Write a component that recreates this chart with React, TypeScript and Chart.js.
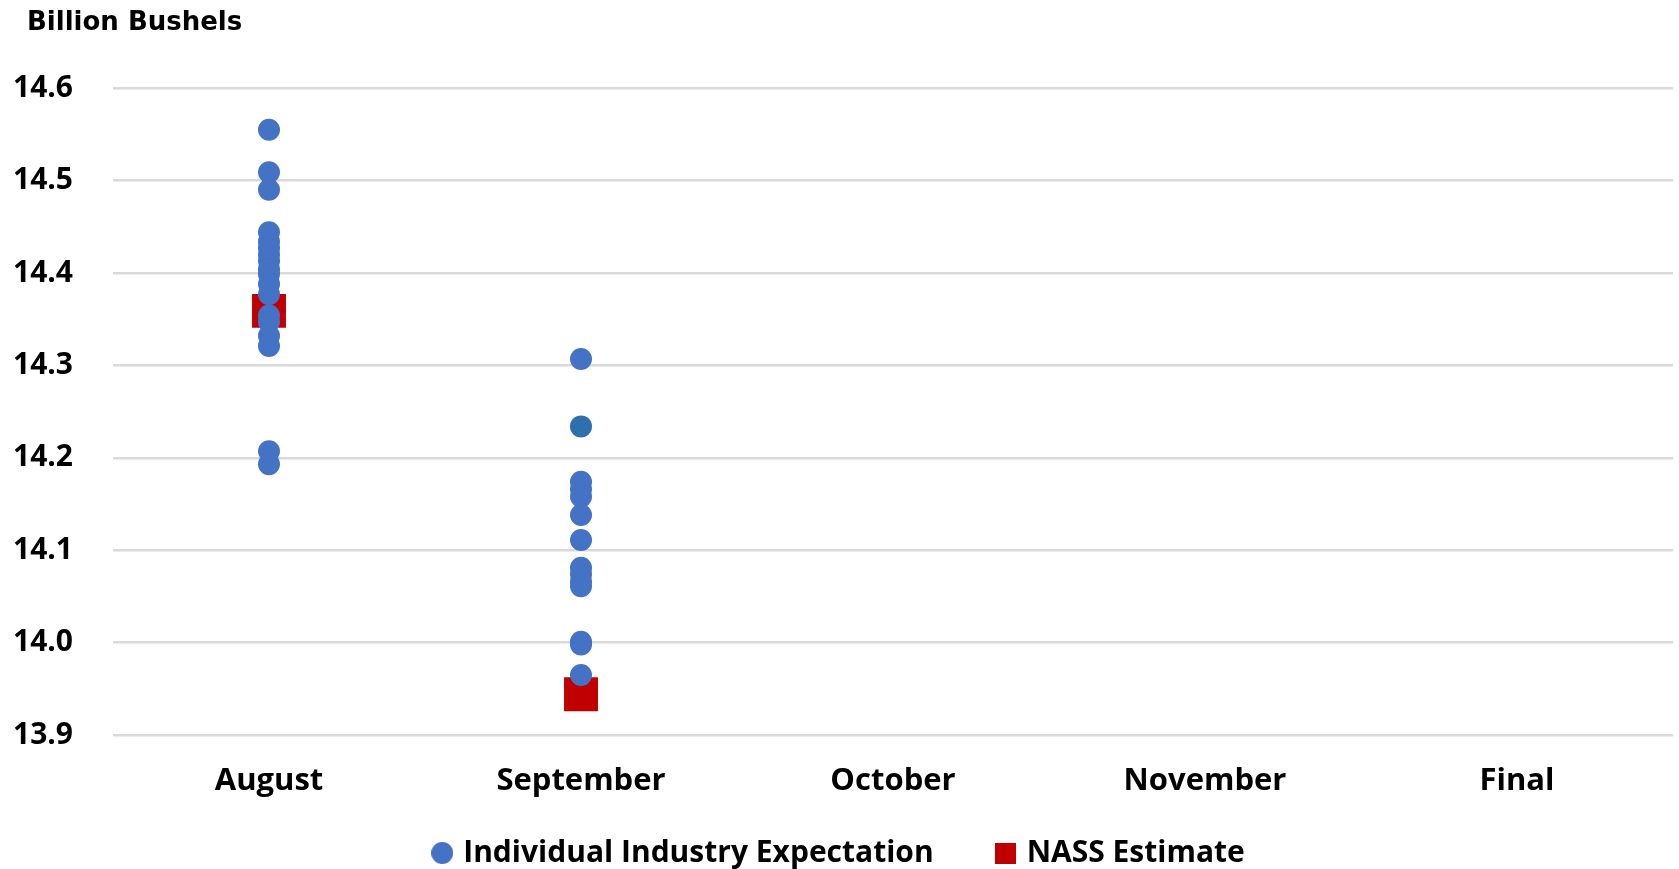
import React, { useEffect, useRef } from "react";
import { Chart, registerables } from "chart.js";

Chart.register(...registerables);

const categories = ["August", "September", "October", "November", "Final"];
const augustExpectations = [14.555, 14.509, 14.49, 14.444, 14.434, 14.427, 14.42, 14.413, 14.404, 14.399, 14.388, 14.377, 14.354, 14.347, 14.332, 14.321, 14.207, 14.193];
const septemberExpectations = [14.307, 14.234, 14.174, 14.166, 14.158, 14.138, 14.111, 14.081, 14.074, 14.066, 14.061, 14.001, 13.998, 13.965];
const nassEstimates: (number | null)[] = [14.359, 13.944, null, null, null];
const yTicks = [13.9, 14.0, 14.1, 14.2, 14.3, 14.4, 14.5, 14.6];

const FONT = "'Open Sans', Lato, sans-serif";
const TITLE_FONT = "'DejaVu Sans', 'Open Sans', sans-serif";
const BLUE = "#4472C4";
const RED = "#C00000";

const LEGEND_FONT = 30;
const LEGEND_GAP = 66;
const LEGEND_CENTER_Y = 853;
const LEGEND_BOX_H = 49;
const TITLE_LEFT = 27;

function makeIcon(shape: "circle" | "square", size: number, color: string) {
  const c = document.createElement("canvas");
  c.width = size;
  c.height = size;
  const g = c.getContext("2d")!;
  g.fillStyle = color;
  if (shape === "circle") {
    g.beginPath();
    g.arc(size / 2, size / 2, size / 2, 0, Math.PI * 2);
    g.fill();
  } else {
    g.fillRect(0, 0, size, size);
  }
  return c;
}

const layoutTweaks = {
  id: "layoutTweaks",
  beforeLayout(chart: any) {
    const lg = chart.legend;
    if (lg && !lg.__patched) {
      const orig = lg.fit;
      lg.fit = function () {
        orig.call(this);
        this.height = LEGEND_BOX_H;
      };
      lg.__patched = true;
    }
  },
  afterLayout(chart: any) {
    const lg = chart.legend;
    if (lg) {
      lg.top = LEGEND_CENTER_Y - LEGEND_GAP - LEGEND_FONT / 2;
      lg.bottom = chart.height;
      lg.height = lg.bottom - lg.top;
    }
    const t = chart.titleBlock;
    if (t) t.left = TITLE_LEFT;
  },
};

export default function App() {
  const ref = useRef<HTMLCanvasElement>(null);
  useEffect(() => {
    if (!ref.current) return;
    const individual = [
      ...augustExpectations.map((y) => ({ x: categories[0], y })),
      ...septemberExpectations.map((y) => ({ x: categories[1], y })),
    ];
    const highlightIndex = augustExpectations.length + 1;
    const nass = nassEstimates
      .map((y, i) => ({ x: categories[i], y }))
      .filter((p) => p.y !== null);
    const icons = [makeIcon("circle", 22, BLUE), makeIcon("square", 21, RED)];
    const chart = new Chart(ref.current, {
      type: "line",
      plugins: [layoutTweaks],
      data: {
        labels: categories,
        datasets: [
          {
            label: "Individual Industry Expectation",
            data: individual as any,
            showLine: false,
            pointStyle: "circle",
            pointRadius: 11,
            pointBorderWidth: 0,
            pointBackgroundColor: (ctx: any) => (ctx.dataIndex === highlightIndex ? "#2E6FAE" : BLUE),
            backgroundColor: BLUE,
            borderColor: BLUE,
            order: 0,
          },
          {
            label: "NASS Estimate",
            data: nass as any,
            showLine: false,
            pointStyle: "rect",
            pointRadius: 24,
            pointBorderWidth: 0,
            pointBackgroundColor: RED,
            backgroundColor: RED,
            borderColor: RED,
            order: 1,
          },
        ],
      },
      options: {
        animation: false,
        responsive: true,
        maintainAspectRatio: false,
        layout: { autoPadding: false, padding: { left: 8, right: 6, top: 8, bottom: 0 } },
        plugins: {
          tooltip: { enabled: false },
          title: {
            display: true,
            text: "Billion Bushels",
            align: "start",
            color: "#000",
            font: { family: TITLE_FONT, size: 26, weight: "bold" },
            padding: { top: 0, bottom: 49 },
          },
          legend: {
            position: "bottom",
            labels: {
              usePointStyle: true,
              color: "#000",
              font: { family: FONT, size: LEGEND_FONT, weight: "bold" },
              boxWidth: 12,
              boxHeight: 22,
              padding: LEGEND_GAP,
              generateLabels: (ch: any) =>
                ch.data.datasets.map((ds: any, i: number) => ({
                  text: ds.label,
                  pointStyle: icons[i],
                  fillStyle: ds.backgroundColor,
                  strokeStyle: ds.backgroundColor,
                  lineWidth: 0,
                  hidden: false,
                  datasetIndex: i,
                  fontColor: "#000",
                })),
            },
          },
        },
        scales: {
          x: {
            type: "category",
            offset: true,
            grid: { display: false },
            border: { display: false },
            ticks: { color: "#000", font: { family: FONT, size: 31, weight: "bold" }, padding: 20 },
            afterFit: (scale: any) => {
              scale.height = 85;
              scale.paddingLeft = 0;
              scale.paddingRight = 0;
            },
          },
          y: {
            min: 13.9,
            max: 14.6,
            afterBuildTicks: (axis: any) => {
              axis.ticks = yTicks.map((v) => ({ value: v }));
            },
            afterFit: (scale: any) => {
              scale.width = 105;
            },
            grid: { color: "#D9D9D9", lineWidth: 2.5, drawTicks: false },
            border: { display: false },
            ticks: {
              color: "#000",
              font: { family: FONT, size: 30, weight: "bold" },
              padding: 40,
              callback: (v: any) => Number(v).toFixed(1),
            },
          },
        },
      },
    });
    return () => chart.destroy();
  }, []);
  return (
    <div style={{ position: "fixed", left: 0, top: 0, width: "1679px", height: "869px", background: "#fff" }}>
      <canvas ref={ref} />
    </div>
  );
}
